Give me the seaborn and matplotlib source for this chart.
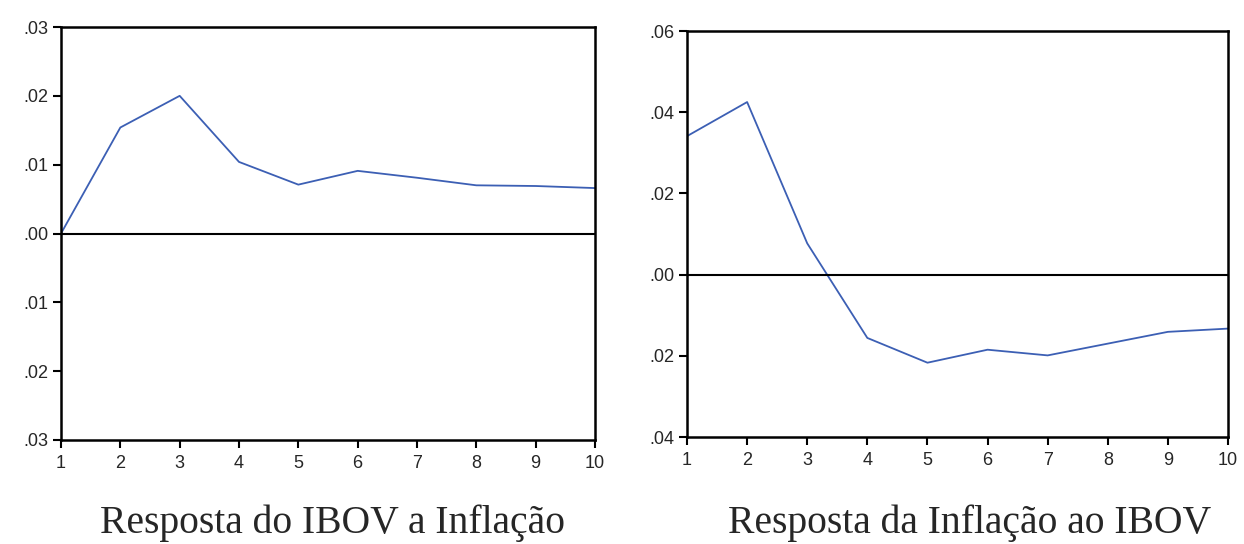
import matplotlib
matplotlib.use("Agg")
import matplotlib.pyplot as plt
import seaborn as sns
import pandas as pd

periods = [1, 2, 3, 4, 5, 6, 7, 8, 9, 10]
ibov_to_inflation = [0.0, 0.0154, 0.0200, 0.0104, 0.0071, 0.0091, 0.0081, 0.0070, 0.0069, 0.0066]
inflation_to_ibov = [0.0341, 0.0425, 0.0077, -0.0156, -0.0217, -0.0185, -0.0199, -0.0170, -0.0141, -0.0133]

left_yticks = [0.03, 0.02, 0.01, 0.0, -0.01, -0.02, -0.03]
left_yticklabels = [".03", ".02", ".01", ".00", ".01", ".02", ".03"]
right_yticks = [0.06, 0.04, 0.02, 0.0, -0.02, -0.04]
right_yticklabels = [".06", ".04", ".02", ".00", ".02", ".04"]
xticklabels = ["1", "2", "3", "4", "5", "6", "7", "8", "9", "10"]

title_left = "Resposta do IBOV a Inflação"
title_right = "Resposta da Inflação ao IBOV"

sns.set_style("white")
plt.rcParams['font.family'] = ['Liberation Sans', 'DejaVu Sans']

fig = plt.figure(figsize=(12.44, 5.44), dpi=100)
ax1 = fig.add_axes([61/1244, 1-440/544, (595-61)/1244, (440-27)/544])
ax2 = fig.add_axes([687/1244, 1-437/544, (1228-687)/1244, (437-31)/544])

df1 = pd.DataFrame({"period": periods, "resp": ibov_to_inflation})
df2 = pd.DataFrame({"period": periods, "resp": inflation_to_ibov})

line_color = "#3c5fb4"
for ax, df, yt, ytl, ylim in [
    (ax1, df1, left_yticks, left_yticklabels, (-0.03, 0.03)),
    (ax2, df2, right_yticks, right_yticklabels, (-0.04, 0.06)),
]:
    sns.lineplot(data=df, x="period", y="resp", ax=ax, color=line_color, linewidth=1.3)
    ax.axhline(0, color="black", linewidth=1.5)
    ax.set_xlim(1, 10)
    ax.set_ylim(*ylim)
    ax.set_xticks(periods)
    ax.set_xticklabels(xticklabels, fontsize=13)
    ax.set_yticks(yt)
    ax.set_yticklabels(ytl, fontsize=13)
    ax.set_xlabel("")
    ax.set_ylabel("")
    ax.tick_params(axis="both", direction="out", length=6, width=1.5, color="black",
                   bottom=True, left=True, pad=3)
    ax.tick_params(axis="x", pad=5)
    for s in ax.spines.values():
        s.set_color("black")
        s.set_linewidth(1.8)

fig.text(333/1244, 1-523/544, title_left, ha="center", va="center",
         fontsize=28.5, family=["Liberation Serif", "DejaVu Serif"])
fig.text(970/1244, 1-523/544, title_right, ha="center", va="center",
         fontsize=28.5, family=["Liberation Serif", "DejaVu Serif"])

fig.savefig("out.png", dpi=100)
